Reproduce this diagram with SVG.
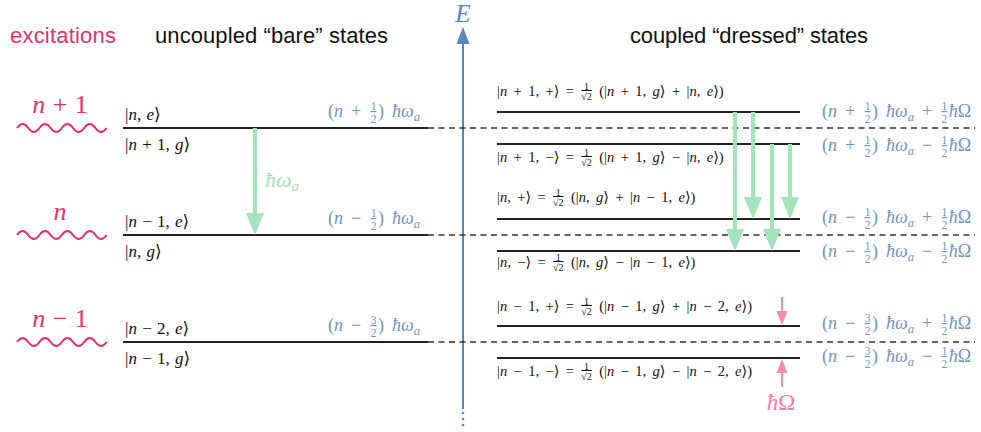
<svg xmlns="http://www.w3.org/2000/svg" width="981" height="432" viewBox="0 0 981 432">
<style>
.hd{font-family:"Liberation Sans","Open Sans",sans-serif;font-size:22px;fill:#111;}
.pk{fill:#e2336d;}
.m{font-family:"Liberation Serif","DejaVu Serif",serif;}
.i{font-style:italic;}
.ln{stroke:#222;stroke-width:2;fill:none;}
.dash{stroke:#333;stroke-width:1.6;stroke-dasharray:6 4.5;fill:none;}
.ket{font-size:17px;fill:#111;word-spacing:1px;}
.en{font-size:18px;fill:#6f95c2;word-spacing:3.5px;}
.ds{font-size:14.5px;fill:#111;word-spacing:2.8px;}
.fn{font-size:11.5px;text-decoration:underline;}
.fd{font-size:11.5px;}
.sn{font-size:10px;}
.sd{font-size:10px;text-decoration:overline;}
.sub{font-size:12.5px;}
.wave{stroke:#e2336d;stroke-width:2;fill:none;}
.gr{stroke:#a3e4b9;stroke-width:4;fill:none;}
.grh{fill:#a3e4b9;}
.pa{stroke:#f28cb1;stroke-width:2;fill:none;}
.pah{fill:#f28cb1;}
</style>

<g id="headings">
<text class="hd pk" x="10" y="43" textLength="106">excitations</text>
<text class="hd" x="155" y="43" textLength="233">uncoupled “bare” states</text>
<text class="hd" x="630" y="43" textLength="238">coupled “dressed” states</text>
</g>

<g id="axis">
<line x1="463" y1="409" x2="463" y2="40" stroke="#5a86bd" stroke-width="2"/>
<polygon points="463,27 456.5,44 469.5,44" fill="#5a86bd"/>
<circle cx="463" cy="413" r="1.3" fill="#5a86bd"/>
<circle cx="463" cy="419" r="1.3" fill="#5a86bd"/>
<circle cx="463" cy="425" r="1.3" fill="#5a86bd"/>
<text class="m i" x="463" y="22" font-size="25" fill="#5a86bd" text-anchor="middle">E</text>
</g>

<g id="excitation-n-plus-1">
<text class="m pk" x="60" y="113" font-size="26" text-anchor="middle" word-spacing="1"><tspan class="i">n</tspan> + 1</text>
<path class="wave" d="M17,128 q5.6,-8 11.2,0 t11.2,0 t11.2,0 t11.2,0 t11.2,0 t11.2,0 t11.2,0 t11.2,0"/>
</g>
<g id="excitation-n">
<text class="m pk i" x="60" y="220" font-size="26" text-anchor="middle">n</text>
<path class="wave" d="M17,235 q5.6,-8 11.2,0 t11.2,0 t11.2,0 t11.2,0 t11.2,0 t11.2,0 t11.2,0 t11.2,0"/>
</g>
<g id="excitation-n-minus-1">
<text class="m pk" x="60" y="327" font-size="26" text-anchor="middle" word-spacing="1"><tspan class="i">n</tspan> − 1</text>
<path class="wave" d="M17,342 q5.6,-8 11.2,0 t11.2,0 t11.2,0 t11.2,0 t11.2,0 t11.2,0 t11.2,0 t11.2,0"/>
</g>

<g id="dashed-levels">
<line class="dash" x1="428" y1="128" x2="975" y2="128"/>
<line class="dash" x1="428" y1="235" x2="975" y2="235"/>
<line class="dash" x1="428" y1="342" x2="975" y2="342"/>
</g>

<g id="bare-level-n-plus-1">
<line class="ln" x1="123" y1="128" x2="428" y2="128"/>
<text class="m ket" x="125" y="120">|<tspan class="i">n</tspan>, <tspan class="i">e</tspan>⟩</text>
<text class="m ket" x="125" y="150">|<tspan class="i">n</tspan> + 1, <tspan class="i">g</tspan>⟩</text>
<text class="m en" x="328" y="117">(<tspan class="i">n</tspan> + <tspan class="fn" dx="1.5" dy="-7">1</tspan><tspan class="fd" dx="-5.75" dy="12.5">2</tspan><tspan dx="1.5" dy="-5.5">) </tspan><tspan class="i">ħω</tspan><tspan class="sub i" dy="3.5">a</tspan></text>
</g>
<g id="bare-level-n">
<line class="ln" x1="123" y1="235" x2="428" y2="235"/>
<text class="m ket" x="125" y="227">|<tspan class="i">n</tspan> − 1, <tspan class="i">e</tspan>⟩</text>
<text class="m ket" x="125" y="257">|<tspan class="i">n</tspan>, <tspan class="i">g</tspan>⟩</text>
<text class="m en" x="328" y="224">(<tspan class="i">n</tspan> − <tspan class="fn" dx="1.5" dy="-7">1</tspan><tspan class="fd" dx="-5.75" dy="12.5">2</tspan><tspan dx="1.5" dy="-5.5">) </tspan><tspan class="i">ħω</tspan><tspan class="sub i" dy="3.5">a</tspan></text>
</g>
<g id="bare-level-n-minus-1">
<line class="ln" x1="123" y1="342" x2="428" y2="342"/>
<text class="m ket" x="125" y="334">|<tspan class="i">n</tspan> − 2, <tspan class="i">e</tspan>⟩</text>
<text class="m ket" x="125" y="364">|<tspan class="i">n</tspan> − 1, <tspan class="i">g</tspan>⟩</text>
<text class="m en" x="328" y="331">(<tspan class="i">n</tspan> − <tspan class="fn" dx="1.5" dy="-7">3</tspan><tspan class="fd" dx="-5.75" dy="12.5">2</tspan><tspan dx="1.5" dy="-5.5">) </tspan><tspan class="i">ħω</tspan><tspan class="sub i" dy="3.5">a</tspan></text>
</g>

<g id="dressed-n-plus-1-plus">
<line class="ln" x1="497" y1="112" x2="800" y2="112"/>
<text class="m ds" x="497" y="96">|<tspan class="i">n</tspan> + 1, +⟩ = <tspan class="sn" dx="3.75" dy="-6">1</tspan><tspan class="sd" dx="-7.75" dy="10">√2</tspan><tspan dx="1" dy="-4"> (|</tspan><tspan class="i">n</tspan> + 1, <tspan class="i">g</tspan>⟩ + |<tspan class="i">n</tspan>, <tspan class="i">e</tspan>⟩)</text>
<text class="m en" x="822" y="117">(<tspan class="i">n</tspan> + <tspan class="fn" dx="1.5" dy="-7">1</tspan><tspan class="fd" dx="-5.75" dy="12.5">2</tspan><tspan dx="1.5" dy="-5.5">) </tspan><tspan class="i">ħω</tspan><tspan class="sub i" dy="3.5">a</tspan><tspan dy="-3.5"> + </tspan><tspan class="fn" dx="1.5" dy="-7">1</tspan><tspan class="fd" dx="-5.75" dy="12.5">2</tspan><tspan class="i" dx="1.5" dy="-5.5">ħ</tspan>Ω</text>
</g>
<g id="dressed-n-plus-1-minus">
<line class="ln" x1="497" y1="144" x2="800" y2="144"/>
<text class="m ds" x="497" y="162">|<tspan class="i">n</tspan> + 1, −⟩ = <tspan class="sn" dx="3.75" dy="-6">1</tspan><tspan class="sd" dx="-7.75" dy="10">√2</tspan><tspan dx="1" dy="-4"> (|</tspan><tspan class="i">n</tspan> + 1, <tspan class="i">g</tspan>⟩ − |<tspan class="i">n</tspan>, <tspan class="i">e</tspan>⟩)</text>
<text class="m en" x="822" y="151">(<tspan class="i">n</tspan> + <tspan class="fn" dx="1.5" dy="-7">1</tspan><tspan class="fd" dx="-5.75" dy="12.5">2</tspan><tspan dx="1.5" dy="-5.5">) </tspan><tspan class="i">ħω</tspan><tspan class="sub i" dy="3.5">a</tspan><tspan dy="-3.5"> − </tspan><tspan class="fn" dx="1.5" dy="-7">1</tspan><tspan class="fd" dx="-5.75" dy="12.5">2</tspan><tspan class="i" dx="1.5" dy="-5.5">ħ</tspan>Ω</text>
</g>
<g id="dressed-n-plus">
<line class="ln" x1="497" y1="219" x2="800" y2="219"/>
<text class="m ds" x="497" y="202">|<tspan class="i">n</tspan>, +⟩ = <tspan class="sn" dx="3.75" dy="-6">1</tspan><tspan class="sd" dx="-7.75" dy="10">√2</tspan><tspan dx="1" dy="-4"> (|</tspan><tspan class="i">n</tspan>, <tspan class="i">g</tspan>⟩ + |<tspan class="i">n</tspan> − 1, <tspan class="i">e</tspan>⟩)</text>
<text class="m en" x="822" y="223">(<tspan class="i">n</tspan> − <tspan class="fn" dx="1.5" dy="-7">1</tspan><tspan class="fd" dx="-5.75" dy="12.5">2</tspan><tspan dx="1.5" dy="-5.5">) </tspan><tspan class="i">ħω</tspan><tspan class="sub i" dy="3.5">a</tspan><tspan dy="-3.5"> + </tspan><tspan class="fn" dx="1.5" dy="-7">1</tspan><tspan class="fd" dx="-5.75" dy="12.5">2</tspan><tspan class="i" dx="1.5" dy="-5.5">ħ</tspan>Ω</text>
</g>
<g id="dressed-n-minus">
<line class="ln" x1="497" y1="251" x2="800" y2="251"/>
<text class="m ds" x="497" y="267">|<tspan class="i">n</tspan>, −⟩ = <tspan class="sn" dx="3.75" dy="-6">1</tspan><tspan class="sd" dx="-7.75" dy="10">√2</tspan><tspan dx="1" dy="-4"> (|</tspan><tspan class="i">n</tspan>, <tspan class="i">g</tspan>⟩ − |<tspan class="i">n</tspan> − 1, <tspan class="i">e</tspan>⟩)</text>
<text class="m en" x="822" y="257">(<tspan class="i">n</tspan> − <tspan class="fn" dx="1.5" dy="-7">1</tspan><tspan class="fd" dx="-5.75" dy="12.5">2</tspan><tspan dx="1.5" dy="-5.5">) </tspan><tspan class="i">ħω</tspan><tspan class="sub i" dy="3.5">a</tspan><tspan dy="-3.5"> − </tspan><tspan class="fn" dx="1.5" dy="-7">1</tspan><tspan class="fd" dx="-5.75" dy="12.5">2</tspan><tspan class="i" dx="1.5" dy="-5.5">ħ</tspan>Ω</text>
</g>
<g id="dressed-n-minus-1-plus">
<line class="ln" x1="497" y1="326" x2="800" y2="326"/>
<text class="m ds" x="497" y="311">|<tspan class="i">n</tspan> − 1, +⟩ = <tspan class="sn" dx="3.75" dy="-6">1</tspan><tspan class="sd" dx="-7.75" dy="10">√2</tspan><tspan dx="1" dy="-4"> (|</tspan><tspan class="i">n</tspan> − 1, <tspan class="i">g</tspan>⟩ + |<tspan class="i">n</tspan> − 2, <tspan class="i">e</tspan>⟩)</text>
<text class="m en" x="822" y="329">(<tspan class="i">n</tspan> − <tspan class="fn" dx="1.5" dy="-7">3</tspan><tspan class="fd" dx="-5.75" dy="12.5">2</tspan><tspan dx="1.5" dy="-5.5">) </tspan><tspan class="i">ħω</tspan><tspan class="sub i" dy="3.5">a</tspan><tspan dy="-3.5"> + </tspan><tspan class="fn" dx="1.5" dy="-7">1</tspan><tspan class="fd" dx="-5.75" dy="12.5">2</tspan><tspan class="i" dx="1.5" dy="-5.5">ħ</tspan>Ω</text>
</g>
<g id="dressed-n-minus-1-minus">
<line class="ln" x1="497" y1="358" x2="800" y2="358"/>
<text class="m ds" x="497" y="376">|<tspan class="i">n</tspan> − 1, −⟩ = <tspan class="sn" dx="3.75" dy="-6">1</tspan><tspan class="sd" dx="-7.75" dy="10">√2</tspan><tspan dx="1" dy="-4"> (|</tspan><tspan class="i">n</tspan> − 1, <tspan class="i">g</tspan>⟩ − |<tspan class="i">n</tspan> − 2, <tspan class="i">e</tspan>⟩)</text>
<text class="m en" x="822" y="362">(<tspan class="i">n</tspan> − <tspan class="fn" dx="1.5" dy="-7">3</tspan><tspan class="fd" dx="-5.75" dy="12.5">2</tspan><tspan dx="1.5" dy="-5.5">) </tspan><tspan class="i">ħω</tspan><tspan class="sub i" dy="3.5">a</tspan><tspan dy="-3.5"> − </tspan><tspan class="fn" dx="1.5" dy="-7">1</tspan><tspan class="fd" dx="-5.75" dy="12.5">2</tspan><tspan class="i" dx="1.5" dy="-5.5">ħ</tspan>Ω</text>
</g>

<g id="connectors">
<line class="gr" x1="255" y1="128" x2="255" y2="214"/>
<polygon class="grh" points="255,235 246,213 264,213"/>
<text class="m i" x="265" y="187" font-size="22" fill="#a3e4b9">ħω<tspan font-size="15" dy="4">a</tspan></text>

<line class="gr" x1="735" y1="112" x2="735" y2="230"/>
<polygon class="grh" points="735,251 726,229 744,229"/>
<line class="gr" x1="753" y1="112" x2="753" y2="198"/>
<polygon class="grh" points="753,219 744,197 762,197"/>
<line class="gr" x1="772" y1="144" x2="772" y2="230"/>
<polygon class="grh" points="772,251 763,229 781,229"/>
<line class="gr" x1="790" y1="144" x2="790" y2="198"/>
<polygon class="grh" points="790,219 781,197 799,197"/>

<line class="pa" x1="782" y1="297" x2="782" y2="314"/>
<polygon class="pah" points="782,325 776.5,311 787.5,311"/>
<line class="pa" x1="782" y1="387" x2="782" y2="370"/>
<polygon class="pah" points="782,359 776.5,373 787.5,373"/>
<text class="m" x="781" y="410" font-size="23" fill="#ef7ba6" text-anchor="middle"><tspan class="i">ħ</tspan>Ω</text>
</g>
</svg>
